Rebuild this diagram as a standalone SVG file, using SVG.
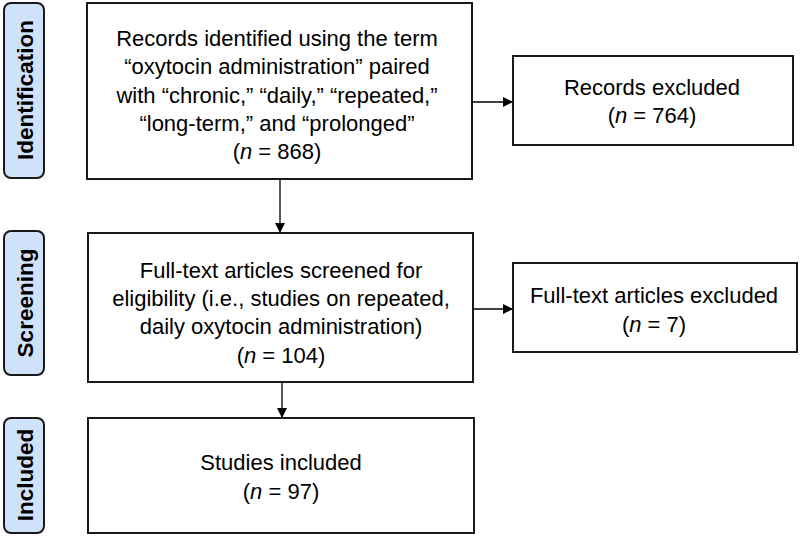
<svg xmlns="http://www.w3.org/2000/svg" width="800" height="537" viewBox="0 0 800 537">
<defs>
<marker id="ah" markerWidth="10" markerHeight="10" refX="9" refY="5" orient="auto" markerUnits="userSpaceOnUse">
<path d="M0,0 L10,5 L0,10 Z" fill="#000"/>
</marker>
<style>
.box{fill:#fff;stroke:#1a1a1a;stroke-width:2}
.lab{fill:#cfe2fa;stroke:#1a1a1a;stroke-width:2}
.t{font-family:"Liberation Sans",Arial,sans-serif;font-size:22px;fill:#000;text-anchor:middle}
.s{font-family:"Liberation Sans",Arial,sans-serif;font-size:22.5px;font-weight:bold;fill:#000;text-anchor:middle}
.c{stroke:#000;stroke-width:1.3;fill:none}
</style>
</defs>
<rect width="800" height="537" fill="#fff"/>
<g id="label-identification">
<rect class="lab" x="4" y="3" width="40" height="175" rx="7"/>
<text class="s" transform="translate(32.5,90) rotate(-90)">Identification</text>
</g>
<g id="label-screening">
<rect class="lab" x="4" y="231" width="40" height="144" rx="7"/>
<text class="s" transform="translate(32.5,303) rotate(-90)">Screening</text>
</g>
<g id="label-included">
<rect class="lab" x="4" y="418" width="40" height="115" rx="7"/>
<text class="s" transform="translate(32.5,475) rotate(-90)">Included</text>
</g>
<g id="records-identified">
<rect class="box" x="87" y="3" width="385" height="176"/>
<text class="t" x="277" y="46">Records identified using the term</text>
<text class="t" x="277" y="74">“oxytocin administration” paired</text>
<text class="t" x="277" y="103">with “chronic,” “daily,” “repeated,”</text>
<text class="t" x="277" y="131">“long-term,” and “prolonged”</text>
<text class="t" x="277" y="159">(<tspan font-style="italic">n</tspan> = 868)</text>
</g>
<g id="records-excluded">
<rect class="box" x="513" y="56" width="280" height="89"/>
<text class="t" x="652" y="95">Records excluded</text>
<text class="t" x="652" y="123">(<tspan font-style="italic">n</tspan> = 764)</text>
</g>
<g id="fulltext-screened">
<rect class="box" x="88" y="233" width="385" height="149"/>
<text class="t" x="281" y="278">Full-text articles screened for</text>
<text class="t" x="281" y="306">eligibility (i.e., studies on repeated,</text>
<text class="t" x="281" y="334">daily oxytocin administration)</text>
<text class="t" x="281" y="363">(<tspan font-style="italic">n</tspan> = 104)</text>
</g>
<g id="fulltext-excluded">
<rect class="box" x="513" y="263" width="284" height="89"/>
<text class="t" x="654" y="303">Full-text articles excluded</text>
<text class="t" x="654" y="332">(<tspan font-style="italic">n</tspan> = 7)</text>
</g>
<g id="studies-included">
<rect class="box" x="88" y="418" width="386" height="115"/>
<text class="t" x="281" y="470">Studies included</text>
<text class="t" x="281" y="499">(<tspan font-style="italic">n</tspan> = 97)</text>
</g>
<g id="connectors">
<line class="c" x1="280" y1="180" x2="280" y2="232" marker-end="url(#ah)"/>
<line class="c" x1="282" y1="383" x2="282" y2="417" marker-end="url(#ah)"/>
<line class="c" x1="472" y1="102" x2="512" y2="102" marker-end="url(#ah)"/>
<line class="c" x1="473" y1="309" x2="512" y2="309" marker-end="url(#ah)"/>
</g>
</svg>
